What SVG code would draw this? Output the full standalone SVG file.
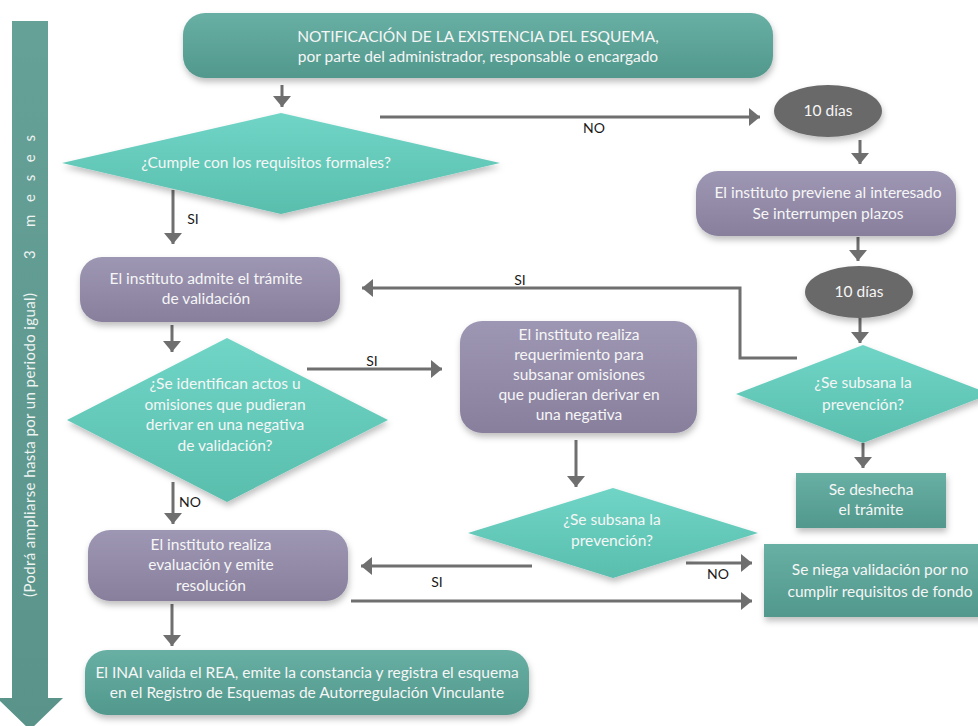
<svg xmlns="http://www.w3.org/2000/svg" width="978" height="726" viewBox="0 0 978 726">
<defs>
<linearGradient id="gTeal" x1="0" y1="0" x2="0" y2="1"><stop offset="0" stop-color="#68afa4"/><stop offset="1" stop-color="#52988c"/></linearGradient>
<linearGradient id="gDia" x1="0" y1="0" x2="0" y2="1"><stop offset="0" stop-color="#70d5c6"/><stop offset="1" stop-color="#59bead"/></linearGradient>
<linearGradient id="gPur" x1="0" y1="0" x2="0" y2="1"><stop offset="0" stop-color="#9e97b3"/><stop offset="1" stop-color="#887f9d"/></linearGradient>
<linearGradient id="gArr" x1="0" y1="0" x2="0" y2="1"><stop offset="0" stop-color="#66a197"/><stop offset="1" stop-color="#5a9389"/></linearGradient>
<filter id="sh" x="-20%" y="-20%" width="140%" height="160%"><feDropShadow dx="1" dy="4" stdDeviation="3" flood-color="#000" flood-opacity="0.25"/></filter>
<marker id="ah" markerUnits="userSpaceOnUse" markerWidth="12" markerHeight="18" refX="11" refY="9" orient="auto"><path d="M0,0 L11,9 L0,18 Z" fill="#6f6f6f"/></marker>
<style>
.lbl{font-family:"Lato","Liberation Sans",sans-serif;font-size:15.5px;fill:#f6f6f6;text-anchor:middle}
.cl{font-family:"Lato","Liberation Sans",sans-serif;font-size:14px;fill:#1a1a1a;text-anchor:middle}
.con{stroke:#6f6f6f;stroke-width:3;fill:none}
.vt{font-family:"Lato","Liberation Sans",sans-serif;font-size:15px;fill:#eef4f2}
</style>
</defs>
<rect width="978" height="726" fill="#ffffff"/>

<g id="timeline">
<path d="M12,21 H48 V698 H63 L30,730 L-3,698 H12 Z" fill="url(#gArr)"/>
<text class="vt" transform="translate(35,597) rotate(-90)" textLength="304" lengthAdjust="spacing">(Podrá ampliarse hasta por un periodo igual)</text>
<text class="vt" transform="translate(35,259) rotate(-90)">3</text>
<text class="vt" transform="translate(35,227) rotate(-90)" textLength="92" lengthAdjust="spacing">m e s e s</text>
</g>

<g id="connectors">
<line class="con" x1="282" y1="85" x2="282" y2="107" marker-end="url(#ah)"/>
<line class="con" x1="380" y1="117" x2="760" y2="117" marker-end="url(#ah)"/>
<line class="con" x1="860" y1="140" x2="860" y2="164" marker-end="url(#ah)"/>
<line class="con" x1="858" y1="237" x2="858" y2="261" marker-end="url(#ah)"/>
<line class="con" x1="860" y1="318" x2="860" y2="343" marker-end="url(#ah)"/>
<polyline class="con" points="797,358 740,358 740,288 362,288" marker-end="url(#ah)"/>
<line class="con" x1="863" y1="443" x2="863" y2="468" marker-end="url(#ah)"/>
<line class="con" x1="173" y1="190" x2="173" y2="244" marker-end="url(#ah)"/>
<line class="con" x1="172" y1="325" x2="172" y2="352" marker-end="url(#ah)"/>
<line class="con" x1="307" y1="369" x2="442" y2="369" marker-end="url(#ah)"/>
<line class="con" x1="173" y1="482" x2="173" y2="524" marker-end="url(#ah)"/>
<line class="con" x1="576" y1="440" x2="576" y2="487" marker-end="url(#ah)"/>
<line class="con" x1="532" y1="566" x2="361" y2="566" marker-end="url(#ah)"/>
<line class="con" x1="686" y1="563" x2="752" y2="563" marker-end="url(#ah)"/>
<line class="con" x1="351" y1="601" x2="752" y2="601" marker-end="url(#ah)"/>
<line class="con" x1="172" y1="604" x2="172" y2="646" marker-end="url(#ah)"/>
<text class="cl" x="594" y="133">NO</text>
<text class="cl" x="520" y="285">SI</text>
<text class="cl" x="193" y="224">SI</text>
<text class="cl" x="372" y="366">SI</text>
<text class="cl" x="190" y="507">NO</text>
<text class="cl" x="437" y="587">SI</text>
<text class="cl" x="718" y="579">NO</text>
</g>

<g id="n_notificacion">
<rect x="183" y="13" width="590" height="65" rx="22" fill="url(#gTeal)" filter="url(#sh)"/>
<text class="lbl" x="478" y="42">NOTIFICACIÓN DE LA EXISTENCIA DEL ESQUEMA,</text>
<text class="lbl" x="478" y="62">por parte del administrador, responsable o encargado</text>
</g>

<g id="n_cumple">
<polygon points="62,163 281,113 500,163 281,214" fill="url(#gDia)" filter="url(#sh)"/>
<text class="lbl" x="266" y="168">¿Cumple con los requisitos formales?</text>
</g>

<g id="n_dias1">
<ellipse cx="828" cy="111" rx="54" ry="26" fill="#6b6969" filter="url(#sh)"/>
<text class="lbl" x="828" y="116">10 días</text>
</g>

<g id="n_previene">
<rect x="696" y="171" width="260" height="65" rx="22" fill="url(#gPur)" filter="url(#sh)"/>
<text class="lbl" x="828" y="198">El instituto previene al interesado</text>
<text class="lbl" x="828" y="219">Se interrumpen plazos</text>
</g>

<g id="n_dias2">
<ellipse cx="859" cy="292" rx="54" ry="26" fill="#6b6969" filter="url(#sh)"/>
<text class="lbl" x="859" y="297">10 días</text>
</g>

<g id="n_subsana1">
<polygon points="736,394 863,345 990,394 863,443" fill="url(#gDia)" filter="url(#sh)"/>
<text class="lbl" x="863" y="388">¿Se subsana la</text>
<text class="lbl" x="863" y="410">prevención?</text>
</g>

<g id="n_deshecha">
<rect x="796" y="473" width="150" height="55" fill="url(#gTeal)" filter="url(#sh)"/>
<text class="lbl" x="871" y="495">Se deshecha</text>
<text class="lbl" x="871" y="515">el trámite</text>
</g>

<g id="n_niega">
<rect x="764" y="544" width="230" height="73" fill="url(#gTeal)" filter="url(#sh)"/>
<text class="lbl" x="880" y="575">Se niega validación por no</text>
<text class="lbl" x="880" y="597">cumplir requisitos de fondo</text>
</g>

<g id="n_admite">
<rect x="80" y="257" width="260" height="65" rx="22" fill="url(#gPur)" filter="url(#sh)"/>
<text class="lbl" x="206" y="284">El instituto admite el trámite</text>
<text class="lbl" x="206" y="304">de validación</text>
</g>

<g id="n_identifican">
<polygon points="67,420 227,338 388,420 227,502" fill="url(#gDia)" filter="url(#sh)"/>
<text class="lbl" x="225" y="389">¿Se identifican actos u</text>
<text class="lbl" x="225" y="410">omisiones que pudieran</text>
<text class="lbl" x="225" y="430">derivar en una negativa</text>
<text class="lbl" x="225" y="451">de validación?</text>
</g>

<g id="n_requerimiento">
<rect x="460" y="321" width="237" height="112" rx="22" fill="url(#gPur)" filter="url(#sh)"/>
<text class="lbl" x="579" y="340">El instituto realiza</text>
<text class="lbl" x="579" y="360">requerimiento  para</text>
<text class="lbl" x="579" y="380">subsanar omisiones</text>
<text class="lbl" x="579" y="400">que pudieran derivar en</text>
<text class="lbl" x="579" y="420">una negativa</text>
</g>

<g id="n_subsana2">
<polygon points="468,533 613,488 758,533 613,578" fill="url(#gDia)" filter="url(#sh)"/>
<text class="lbl" x="612" y="525">¿Se subsana la</text>
<text class="lbl" x="612" y="546">prevención?</text>
</g>

<g id="n_evaluacion">
<rect x="88" y="530" width="260" height="71" rx="22" fill="url(#gPur)" filter="url(#sh)"/>
<text class="lbl" x="211" y="550">El instituto realiza</text>
<text class="lbl" x="211" y="570">evaluación y emite</text>
<text class="lbl" x="211" y="591">resolución</text>
</g>

<g id="n_inai">
<rect x="85" y="650" width="444" height="65" rx="22" fill="url(#gTeal)" filter="url(#sh)"/>
<text class="lbl" x="307" y="678">El INAI valida el REA, emite la constancia y registra el esquema</text>
<text class="lbl" x="307" y="698">en el Registro de Esquemas de Autorregulación Vinculante</text>
</g>
</svg>
